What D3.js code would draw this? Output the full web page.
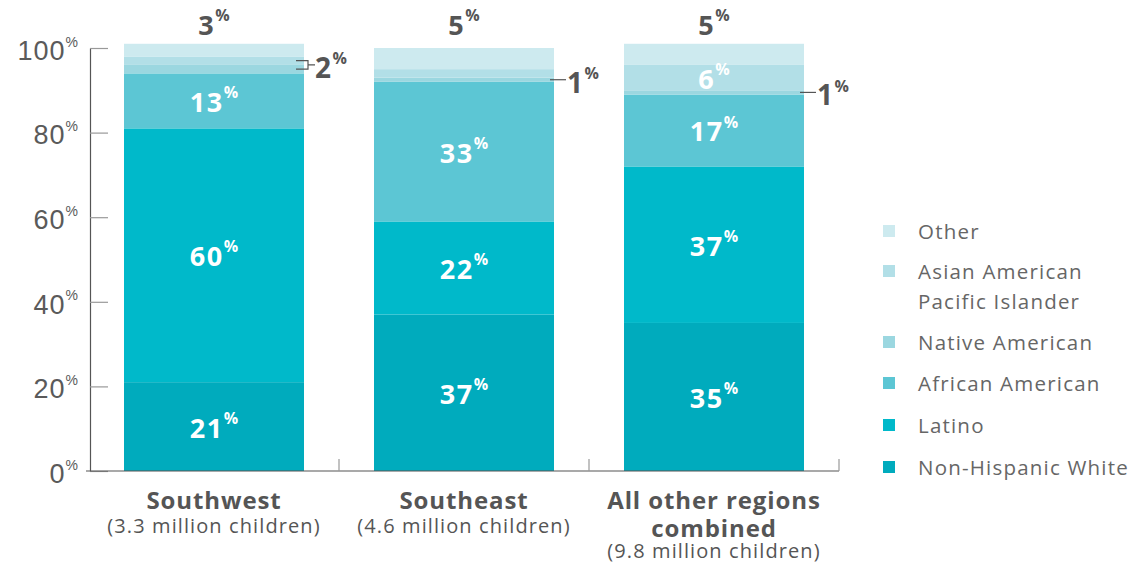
<!DOCTYPE html>
<html><head><meta charset="utf-8">
<script src="https://cdn.jsdelivr.net/npm/d3@7"></script>
<style>
body{margin:0;background:#fff;}
svg{display:block;font-family:"Open Sans",sans-serif;}
</style></head>
<body><svg id="c" width="1132" height="567"></svg>
<script>
const categories = ["Southwest","Southeast","All other regions combined"];
const categoryLines = [["Southwest"],["Southeast"],["All other regions","combined"]];
const childrenCounts = ["(3.3 million children)","(4.6 million children)","(9.8 million children)"];
const seriesNames = ["Non-Hispanic White","Latino","African American","Native American","Asian American Pacific Islander","Other"];
const legendLines = [["Non-Hispanic White"],["Latino"],["African American"],["Native American"],["Asian American","Pacific Islander"],["Other"]];
const nonHispanicWhite = [21,37,35];
const latino = [60,22,37];
const africanAmerican = [13,33,17];
const nativeAmerican = [2,1,1];
const asianAmerican = [2,2,6];
const other = [3,5,5];
const yTicks = [0,20,40,60,80,100];
const colors = ["#00abbd","#00b9ca","#5cc6d4","#9bd7e0","#b2dfe7","#cdeaef"];

const seriesValues = [nonHispanicWhite, latino, africanAmerican, nativeAmerican, asianAmerican, other];
const rows = categories.map((c,i)=>{const r={cat:c}; seriesNames.forEach((s,j)=>r[s]=seriesValues[j][i]); return r;});
const stack = d3.stack().keys(seriesNames)(rows);

const svg = d3.select("#c");
const dark = "#555";
const x = d3.scaleBand().domain(categories).range([89,839]).paddingInner(0.28).paddingOuter(0.14);
const y = d3.scaleLinear().domain([0,100]).range([471,48]);

// bars
stack.forEach((layer,j)=>{
  svg.append("g").attr("fill",colors[j]).selectAll("rect").data(layer).join("rect")
    .attr("x",d=>x(d.data.cat)).attr("width",x.bandwidth())
    .attr("y",d=>y(d[1])).attr("height",d=>y(d[0])-y(d[1]));
});

// left axis
const ya = svg.append("g").attr("transform","translate(90,0)")
  .call(d3.axisLeft(y).tickValues(yTicks).tickSizeInner(-18).tickSizeOuter(0).tickPadding(12));
ya.select(".domain").attr("stroke",dark).attr("stroke-width",1.2);
ya.selectAll(".tick line").attr("stroke","#999").attr("stroke-width",1.2);
ya.selectAll(".tick text").attr("fill","#5a5a5a").style("font-size","27px").style("font-weight","300")
  .style("letter-spacing","1px").attr("dy","0.42em")
  .text(d=>d).append("tspan").text("%").style("font-size","14px").style("letter-spacing","0").attr("dy","-0.95em");

// bottom axis
const xa = svg.append("g").attr("transform","translate(0,471)");
xa.append("line").attr("x1",86).attr("x2",839).attr("stroke",dark).attr("stroke-width",1.2);
const boundaries = categories.map(c=>x(c)+x.bandwidth()+x.step()*x.paddingInner()/2);
xa.selectAll("line.t").data(boundaries).join("line").attr("class","t")
  .attr("x1",d=>d).attr("x2",d=>d).attr("y1",-12).attr("y2",0).attr("stroke","#999").attr("stroke-width",1.2);

function pctText(g, v, xPos, yPos, size, supSize, fill, anchor){
  const t = g.append("text").attr("x",xPos).attr("y",yPos).attr("text-anchor",anchor||"middle")
    .attr("dominant-baseline","central").attr("fill",fill).style("font-weight","700").style("font-size",size+"px");
  t.append("tspan").text(v).style("letter-spacing","1.5px");
  t.append("tspan").text("%").style("font-size",supSize+"px").attr("dy","-0.55em");
  return t;
}
const lbl = svg.append("g");
// inside labels
stack.forEach((layer,j)=>{
  layer.forEach((d,i)=>{
    const v = d[1]-d[0];
    const cx = x(d.data.cat)+x.bandwidth()/2;
    if (j<3 || (j===4 && v>=5)) pctText(lbl, v, cx, y((d[0]+d[1])/2), 27, 16, "#fff");
  });
});
// top labels (Other)
stack[5].forEach(d=>{
  pctText(lbl, d[1]-d[0], x(d.data.cat)+x.bandwidth()/2, 24, 27, 16, dark);
});
// side labels for Native American
stack[3].forEach((d,i)=>{
  const right = x(d.data.cat)+x.bandwidth();
  const ym = y((d[0]+d[1])/2);
  if (i===0){
    const a = stack[4][i];
    const ya2 = y((a[0]+a[1])/2);
    const path = d3.path();
    path.moveTo(right-8, ya2); path.lineTo(right+4, ya2); path.lineTo(right+4, ym); path.lineTo(right-8, ym);
    path.moveTo(right+4,(ya2+ym)/2); path.lineTo(right+11,(ya2+ym)/2);
    lbl.append("path").attr("d",path.toString()).attr("fill","none").attr("stroke",dark).attr("stroke-width",1.2);
    pctText(lbl, d[1]-d[0], right+11, (ya2+ym)/2+2, 28, 16, dark, "start");
  } else {
    lbl.append("line").attr("x1",right-4).attr("x2",right+12).attr("y1",ym).attr("y2",ym).attr("stroke",dark).attr("stroke-width",1.2);
    pctText(lbl, d[1]-d[0], right+13, ym+2, 28, 16, dark, "start");
  }
});

// category labels
categories.forEach((c,i)=>{
  const cx = x(c)+x.bandwidth()/2;
  const lines = categoryLines[i];
  lines.forEach((l,k)=>{
    svg.append("text").attr("x",cx).attr("y",509+k*28).attr("text-anchor","middle")
      .attr("fill",dark).style("font-weight","700").style("font-size","24px").style("letter-spacing","0.9px").text(l);
  });
  svg.append("text").attr("x",cx).attr("y",509+lines.length*25-1).attr("text-anchor","middle")
    .attr("fill",dark).style("font-size","20px").style("letter-spacing","1.1px").text(childrenCounts[i]);
});

// legend
const legendY = [467,425,383,342,271,231];
seriesNames.forEach((s,j)=>{
  const g = svg.append("g");
  g.append("rect").attr("x",883).attr("y",legendY[j]-6).attr("width",12).attr("height",12).attr("fill",colors[j]);
  legendLines[j].forEach((l,k)=>{
    g.append("text").attr("x",918).attr("y",legendY[j]+k*30).attr("dominant-baseline","central")
      .attr("fill","#666").style("font-size","20.5px").style("letter-spacing","1.2px").text(l);
  });
});
</script></body></html>
